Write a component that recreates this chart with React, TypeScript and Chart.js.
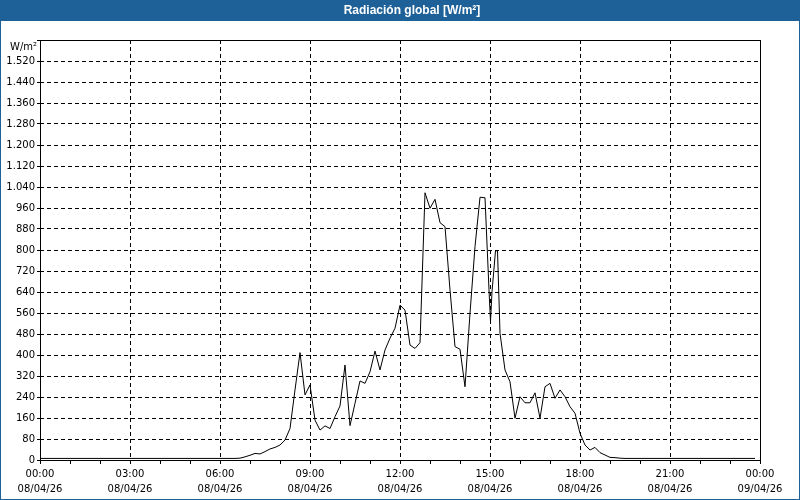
import React, { useEffect, useRef } from 'react';
import { Chart, registerables } from 'chart.js';

Chart.register(...registerables);

const titleText = 'Radiación global [W/m²]';
const unitLabel = 'W/m²';
const dayLabel = '08/04/26';
const nextDayLabel = '09/04/26';

// Sample times (HH:MM) and global radiation values (W/m²)
const times: string[] = [
  '00:00','00:10','00:20','00:30','00:40','00:50','01:00','01:10','01:20','01:30','01:40','01:50',
  '02:00','02:10','02:20','02:30','02:40','02:50','03:00','03:10','03:20','03:30','03:40','03:50',
  '04:00','04:10','04:20','04:30','04:40','04:50','05:00','05:10','05:20','05:30','05:40','05:50',
  '06:00','06:10','06:20','06:30','06:40','06:50','07:00','07:10','07:20','07:30','07:40','07:50',
  '08:00','08:10','08:20','08:30','08:40','08:50','09:00','09:10','09:20','09:30','09:40','09:50',
  '10:00','10:10','10:20','10:30','10:40','10:50','11:00','11:10','11:20','11:30','11:40','11:50',
  '12:00','12:10','12:20','12:30','12:40','12:50','13:00','13:10','13:20','13:30','13:40','13:50',
  '14:00','14:10','14:20','14:30','14:40','14:50','14:58','15:01','15:04','15:11','15:15','15:20',
  '15:30','15:40','15:50','16:00','16:10','16:20','16:30','16:40','16:50','17:00','17:10','17:20',
  '17:30','17:40','17:50','18:00','18:10','18:20','18:30','18:40','18:50','19:00','19:10','19:20',
  '19:30','19:40','19:50','20:00','20:10','20:20','20:30','20:40','20:50','21:00','21:10','21:20',
  '21:30','21:40','21:50','22:00','22:10','22:20','22:30','22:40','22:50','23:00','23:10','23:20',
  '23:30','23:40','23:50',
];

const values: number[] = [
  6, 6, 6, 6, 6, 6, 6, 6, 6, 6, 6, 6,
  6, 6, 6, 6, 6, 6, 6, 6, 6, 6, 6, 6,
  6, 6, 6, 6, 6, 6, 6, 6, 6, 6, 6, 6,
  6, 6, 6, 6, 7, 12, 18, 25, 23, 32, 42, 48,
  57, 76, 120, 267, 409, 248, 286, 152, 114, 130, 120, 165,
  206, 362, 131, 216, 301, 292, 336, 415, 343, 419, 464, 502,
  590, 571, 438, 425, 447, 1018, 959, 993, 904, 889, 648, 432,
  422, 279, 559, 813, 1001, 999, 648, 527, 641, 797, 797, 483,
  343, 298, 159, 241, 218, 218, 256, 159, 279, 292, 235, 267,
  241, 203, 178, 102, 57, 38, 48, 28, 19, 10, 9, 7,
  6, 6, 6, 6, 6, 6, 6, 6, 6, 6, 6, 6,
  6, 6, 6, 6, 6, 6, 6, 6, 6, 6, 6, 6,
  6, 6, 6,
];

const yMax = 1600;
const yStep = 80;
const xMaxMinutes = 1440;

const toMinutes = (t: string) => {
  const [h, m] = t.split(':').map(Number);
  return h * 60 + m;
};

const fmtNum = (v: number) =>
  v >= 1000 ? Math.floor(v / 1000) + '.' + String(v % 1000).padStart(3, '0') : String(v);

const FONT = "'DejaVu Sans', sans-serif";
const TITLE_FONT = "bold 12px 'Liberation Sans', sans-serif";

export default function App() {
  const ref = useRef<HTMLCanvasElement | null>(null);

  useEffect(() => {
    if (!ref.current) return;
    const framePlugin = {
      id: 'frame',
      beforeDraw(chart: any) {
        const { ctx, width, height } = chart;
        ctx.save();
        ctx.fillStyle = '#ffffff';
        ctx.fillRect(0, 0, width, height);
        ctx.fillStyle = '#1d6198';
        ctx.fillRect(0, 0, width, 21);
        ctx.restore();
      },
      afterDraw(chart: any) {
        const { ctx, chartArea, width, height } = chart;
        ctx.save();
        ctx.strokeStyle = '#000';
        ctx.lineWidth = 1;
        ctx.setLineDash([]);
        ctx.strokeRect(
          Math.round(chartArea.left) + 0.5,
          Math.round(chartArea.top) + 0.5,
          Math.round(chartArea.right - chartArea.left),
          Math.round(chartArea.bottom - chartArea.top)
        );
        ctx.strokeStyle = '#1d6198';
        ctx.strokeRect(0.5, 0.5, width - 1, height - 1);
        // title
        ctx.fillStyle = '#ffffff';
        ctx.font = TITLE_FONT;
        ctx.textAlign = 'center';
        ctx.textBaseline = 'middle';
        ctx.fillText(titleText, 412, 10.5);
        // unit label at top of y axis
        ctx.fillStyle = '#000';
        ctx.font = `10px ${FONT}`;
        ctx.textAlign = 'right';
        ctx.textBaseline = 'middle';
        ctx.fillText(unitLabel, chartArea.left - 3, chartArea.top + 7);
        ctx.restore();
      },
    };

    const chart = new Chart(ref.current, {
      type: 'line',
      data: {
        datasets: [
          {
            label: titleText,
            data: times.map((t, i) => ({ x: toMinutes(t), y: values[i] })),
            borderColor: '#000',
            borderWidth: 1,
            pointRadius: 0,
            tension: 0,
            fill: false,
          },
        ],
      },
      options: {
        responsive: false,
        animation: false,
        devicePixelRatio: 1,
        layout: { padding: { left: 0, right: 40, top: 40, bottom: 0 } },
        plugins: {
          legend: { display: false },
          tooltip: { enabled: false },
          title: { display: false, text: titleText },
        },
        scales: {
          x: {
            type: 'linear',
            min: 0,
            max: xMaxMinutes,
            afterFit: (scale: any) => {
              scale.height = 40;
            },
            ticks: {
              stepSize: 60,
              autoSkip: false,
              maxRotation: 0,
              minRotation: 0,
              padding: 3,
              color: '#000',
              font: { family: FONT, size: 10, lineHeight: 1.5 },
              callback: (value: any) => {
                const v = Number(value);
                if (v % 180 !== 0) return '';
                const hh = String(Math.floor(v / 60) % 24).padStart(2, '0');
                return [`${hh}:00`, v >= xMaxMinutes ? nextDayLabel : dayLabel];
              },
            },
            grid: {
              color: (ctx: any) =>
                ctx.tick && ctx.tick.value % 180 === 0 ? '#000' : 'rgba(0,0,0,0)',
              lineWidth: 1,
              tickColor: '#000',
              tickLength: 4,
              tickBorderDash: [],
              drawTicks: true,
            },
            border: { display: false, dash: [4, 3] },
          },
          y: {
            type: 'linear',
            min: 0,
            max: yMax,
            afterFit: (scale: any) => {
              scale.width = 40;
            },
            ticks: {
              stepSize: yStep,
              autoSkip: false,
              padding: 2,
              color: '#000',
              font: { family: FONT, size: 10 },
              callback: (value: any) => {
                const v = Number(value);
                if (v >= yMax) return '';
                return fmtNum(v);
              },
            },
            grid: {
              color: '#000',
              lineWidth: 1,
              tickColor: '#000',
              tickLength: 3,
              tickBorderDash: [],
            },
            border: { display: false, dash: [4, 3] },
          },
        },
      },
      plugins: [framePlugin],
    } as any);

    return () => chart.destroy();
  }, []);

  return (
    <div style={{ position: 'fixed', left: 0, top: 0, width: 800, height: 500 }}>
      <canvas ref={ref} width={800} height={500} style={{ display: 'block', width: 800, height: 500 }} />
    </div>
  );
}
